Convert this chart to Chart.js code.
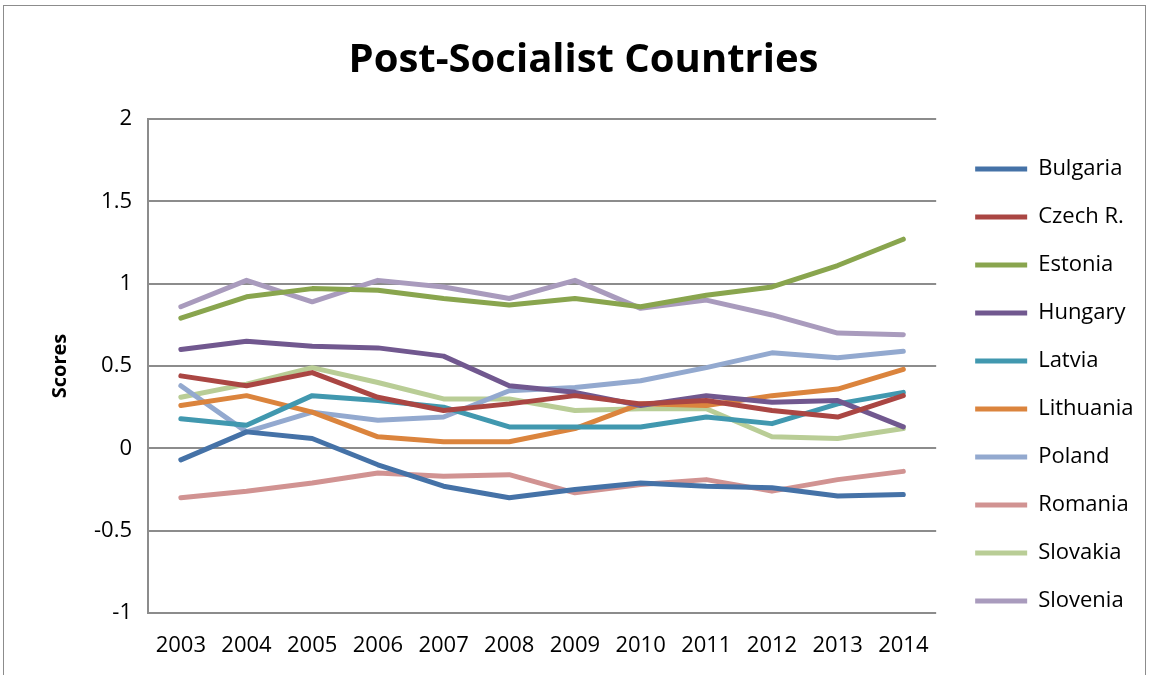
<!DOCTYPE html>
<html>
<head>
<meta charset="utf-8">
<title>Post-Socialist Countries</title>
<script src="https://cdn.jsdelivr.net/npm/chart.js@4.4.1/dist/chart.umd.min.js"></script>
<style>
  html, body { margin: 0; padding: 0; background: #fff; }
  #wrap { position: relative; width: 1152px; height: 675px; }
  #frame { position: absolute; left: 3px; top: 5px; width: 1143px; height: 700px; border: 1px solid #8c8c8c; box-sizing: border-box; pointer-events: none; }
  canvas { position: absolute; left: 0; top: 0; }
</style>
</head>
<body>
<div id="wrap">
  <canvas id="chart" width="1152" height="675"></canvas>
  <div id="frame"></div>
</div>
<script>
const years = ["2003", "2004", "2005", "2006", "2007", "2008", "2009", "2010", "2011", "2012", "2013", "2014"];

const bulgaria   = [-0.07, 0.10, 0.06, -0.10, -0.23, -0.30, -0.25, -0.21, -0.23, -0.24, -0.29, -0.28];
const czech      = [0.44, 0.38, 0.46, 0.31, 0.23, 0.27, 0.32, 0.27, 0.29, 0.23, 0.19, 0.32];
const estonia    = [0.79, 0.92, 0.97, 0.96, 0.91, 0.87, 0.91, 0.86, 0.93, 0.98, 1.11, 1.27];
const hungary    = [0.60, 0.65, 0.62, 0.61, 0.56, 0.38, 0.34, 0.26, 0.32, 0.28, 0.29, 0.13];
const latvia     = [0.18, 0.14, 0.32, 0.29, 0.25, 0.13, 0.13, 0.13, 0.19, 0.15, 0.27, 0.34];
const lithuania  = [0.26, 0.32, 0.22, 0.07, 0.04, 0.04, 0.12, 0.27, 0.26, 0.32, 0.36, 0.48];
const poland     = [0.38, 0.10, 0.22, 0.17, 0.19, 0.35, 0.37, 0.41, 0.49, 0.58, 0.55, 0.59];
const romania    = [-0.30, -0.26, -0.21, -0.15, -0.17, -0.16, -0.27, -0.22, -0.19, -0.26, -0.19, -0.14];
const slovakia   = [0.31, 0.39, 0.49, 0.40, 0.30, 0.30, 0.23, 0.24, 0.24, 0.07, 0.06, 0.12];
const slovenia   = [0.86, 1.02, 0.89, 1.02, 0.98, 0.91, 1.02, 0.85, 0.90, 0.81, 0.70, 0.69];

const countries = ["Bulgaria", "Czech R.", "Estonia", "Hungary", "Latvia", "Lithuania", "Poland", "Romania", "Slovakia", "Slovenia"];
const seriesValues = [bulgaria, czech, estonia, hungary, latvia, lithuania, poland, romania, slovakia, slovenia];
const colors = ["#4572A7", "#AA4643", "#89A54E", "#71588F", "#4198AF", "#DB843D", "#93A9CF", "#D19392", "#B9CD96", "#A99BBD"];

const FONT = "'Open Sans', 'Liberation Sans', sans-serif";

const ctx = document.getElementById("chart").getContext("2d");

new Chart(ctx, {
  type: "line",
  data: {
    labels: years,
    datasets: countries.map((name, i) => ({
      label: name,
      data: seriesValues[i],
      borderColor: colors[i],
      backgroundColor: colors[i],
      borderWidth: 5,
      borderCapStyle: "round",
      borderJoinStyle: "round",
      pointRadius: 0,
      pointHoverRadius: 0,
      tension: 0,
      fill: false,
    })),
  },
  options: {
    responsive: false,
    animation: false,
    layout: {
      padding: { left: 35, right: 20, top: 0, bottom: 22 },
    },
    plugins: {
      title: {
        display: true,
        text: "Post-Socialist Countries",
        color: "#000",
        font: { family: FONT, size: 40, weight: "bold", lineHeight: 1.2 },
        padding: { top: 37, bottom: 34 },
      },
      legend: {
        position: "right",
        align: "start",
        title: {
          display: true,
          text: " ",
          font: { family: FONT, size: 20, lineHeight: 1.2 },
          padding: { top: 108, bottom: 0 },
        },
        labels: {
          usePointStyle: true,
          pointStyle: "line",
          pointStyleWidth: 52,
          boxHeight: 22,
          padding: 26,
          color: "#000",
          font: { family: FONT, size: 22 },
        },
      },
      tooltip: { enabled: false },
    },
    scales: {
      x: {
        offset: true,
        grid: { display: false, drawTicks: false },
        border: { display: false },
        ticks: { color: "#000", padding: 20, font: { family: FONT, size: 22 }, maxRotation: 0 },
        afterFit: (scale) => { scale.height = 40; },
      },
      y: {
        min: -1,
        max: 2,
        ticks: {
          stepSize: 0.5,
          color: "#000",
          padding: 16,
          font: { family: FONT, size: 22 },
          callback: (v) => String(v),
        },
        grid: { color: "#8c8c8c", lineWidth: 2, drawTicks: false },
        border: { display: true, color: "#8c8c8c", width: 2 },
        title: {
          display: true,
          text: "Scores",
          color: "#000",
          font: { family: FONT, size: 20, weight: "bold", lineHeight: 1.2 },
          padding: { top: 13, bottom: 0 },
        },
        afterFit: (scale) => { scale.width = 113; },
      },
      gap: {
        position: "right",
        display: true,
        grid: { display: false, drawTicks: false },
        border: { display: false },
        ticks: { display: false },
        afterFit: (scale) => { scale.width = 13; },
      },
    },
  },
});
</script>
</body>
</html>
